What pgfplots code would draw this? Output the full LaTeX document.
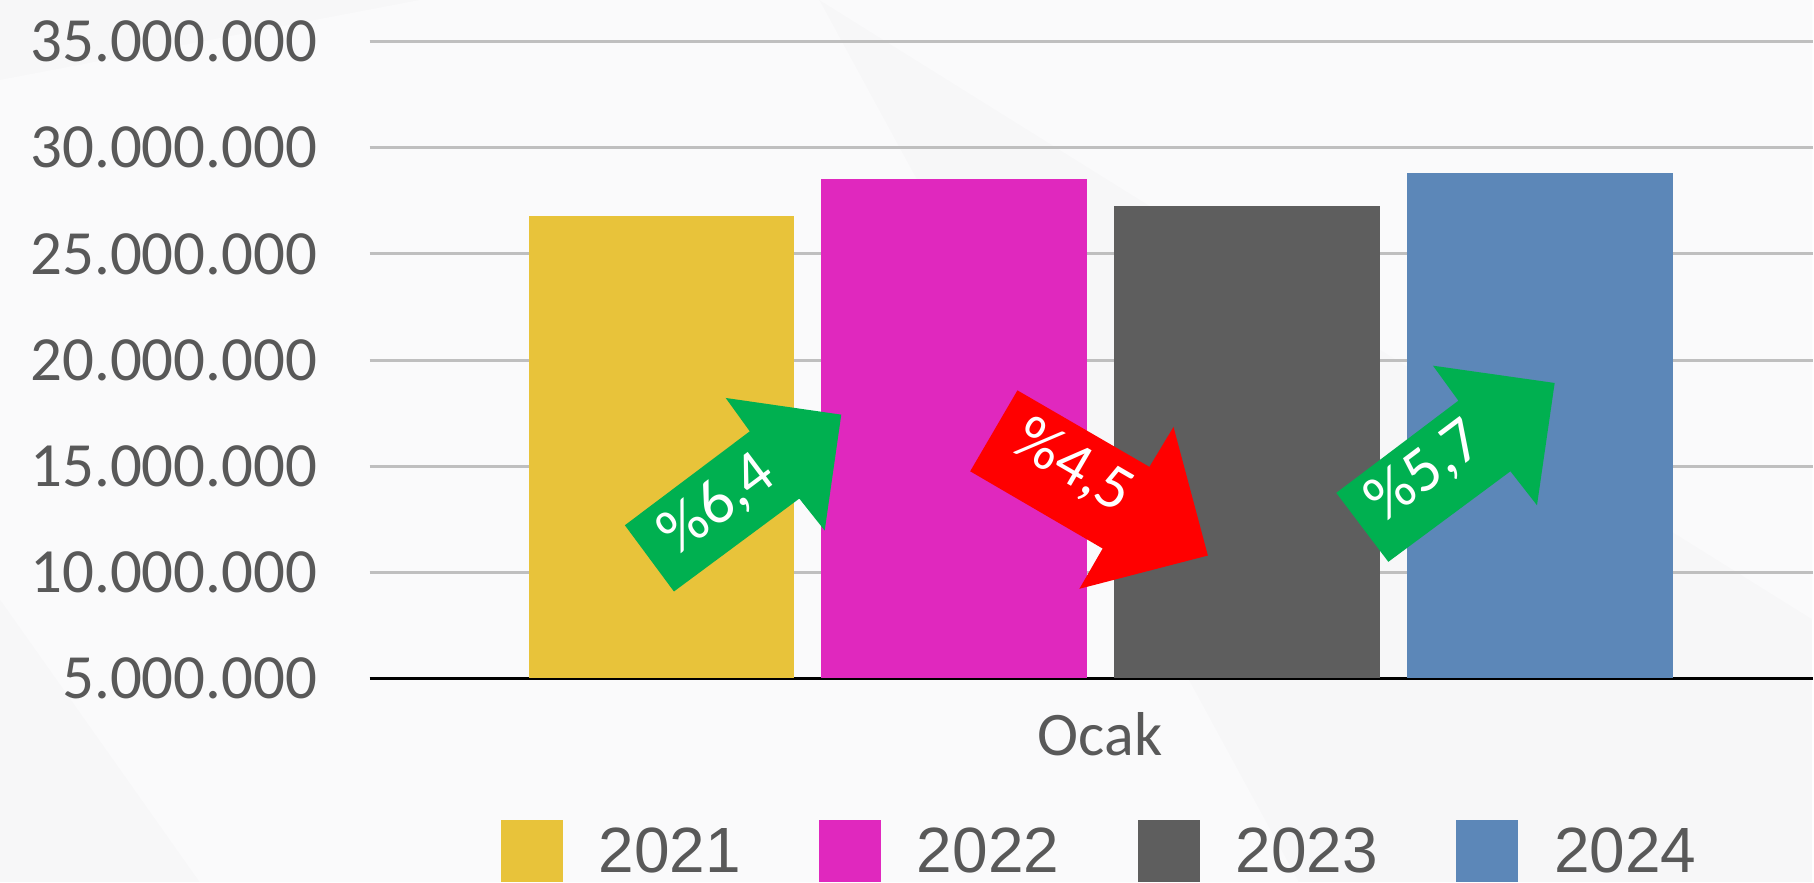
\documentclass[border=0pt]{standalone}
\usepackage{fontspec}
\setmainfont{Carlito}
\newfontfamily\legfont{Liberation Sans}
\usepackage{pgfplots}
\pgfplotsset{compat=1.18}
\definecolor{c21}{RGB}{232,195,58}
\definecolor{c22}{RGB}{224,40,190}
\definecolor{c23}{RGB}{94,94,94}
\definecolor{c24}{RGB}{92,135,184}
\definecolor{tgray}{RGB}{89,89,89}
\definecolor{ggray}{RGB}{191,191,191}
\definecolor{agreen}{RGB}{0,176,80}
\definecolor{bg}{RGB}{247,247,248}
\definecolor{bgl}{RGB}{250,250,251}
\begin{document}
\begin{tikzpicture}
\begin{scope}[x=0.5bp,y=-0.5bp,shift={(0,441.5bp)}]
\useasboundingbox (0,0) rectangle (1814,883);
\clip (0,0) rectangle (1814,883);
\fill[bg] (0,0) rectangle (1814,883);
\fill[bgl] (820,0) -- (1814,0) -- (1814,620) -- cycle;
\fill[bgl] (0,80) -- (420,0) -- (820,0) -- (1300,883) -- (200,883) -- (0,600) -- cycle;
\end{scope}
\begin{axis}[
  at={(185bp,102bp)}, anchor=south west,
  scale only axis, width=722bp, height=318.65bp,
  xmin=370, xmax=1814, ymin=5000000, ymax=35000000,
  axis x line=bottom, axis y line=left,
  y axis line style={draw=none},
  x axis line style={black, line width=1.5bp, -},
  ymajorgrids, grid style={ggray, line width=1.5bp},
  major tick length=0pt,
  ytick={5000000,10000000,15000000,20000000,25000000,30000000,35000000},
  scaled y ticks=false,
  yticklabel style={/pgf/number format/fixed, /pgf/number format/precision=0,
    /pgf/number format/1000 sep={.}, /pgf/number format/assume math mode=true,
    inner sep=0pt, anchor=east, xshift=-26bp, text=tgray,
    font=\fontsize{31.5bp}{36bp}\selectfont},
  xtick={1101}, xticklabels={Ocak},
  xticklabel style={inner sep=0pt, anchor=north, yshift=-17bp, text=tgray,
    font=\fontsize{31bp}{36bp}\selectfont},
  clip=true,
  legend columns=4,
  legend image code/.code={\fill[#1] (0bp,-15.5bp) rectangle (31bp,15.5bp);},
  legend style={at={(0.0907,-0.3201)}, anchor=south west, draw=none, fill=none,
    inner sep=0pt, outer sep=0pt, row sep=0pt,
    font=\legfont\fontsize{32bp}{36bp}\selectfont, text=tgray,
    nodes={inner sep=0pt, outer sep=0pt},
    /tikz/every odd column/.append style={column sep=18bp},
    /tikz/every even column/.append style={column sep=39.2bp}},
]
\addplot[ybar, bar width=266, bar shift=0pt, fill=c21, draw=none] coordinates {(662,26800000)};
\addlegendentry{2021}
\addplot[ybar, bar width=266, bar shift=0pt, fill=c22, draw=none] coordinates {(954.5,28520000)};
\addlegendentry{2022}
\addplot[ybar, bar width=266, bar shift=0pt, fill=c23, draw=none] coordinates {(1248,27240000)};
\addlegendentry{2023}
\addplot[ybar, bar width=266, bar shift=0pt, fill=c24, draw=none] coordinates {(1541,28790000)};
\addlegendentry{2024}
\end{axis}
\begin{scope}[x=0.5bp,y=-0.5bp,shift={(0,441.5bp)}]
\fill[agreen] (625.4,525.7) -- (750.4,431.7) -- (726.3,398.3) -- (842,415) -- (825.4,531) -- (800,499) -- (674.5,592) -- cycle;
\node[rotate=36.9, text=white, inner sep=0pt, font=\fontsize{32bp}{36bp}\selectfont] at (718,505) {\%6,4};
\fill[red] (1018.3,390.7) -- (1150.4,467.3) -- (1174.5,427.3) -- (1208.9,556) -- (1080.3,589.3) -- (1103.6,549) -- (971,471.7) -- cycle;
\node[rotate=-30.2, text=white, inner sep=0pt, font=\fontsize{32bp}{36bp}\selectfont] at (1074,467) {\%4,5};
\fill[agreen] (1337.4,493.3) -- (1459.6,401) -- (1434.2,366) -- (1556,383.3) -- (1538.3,505.7) -- (1511.7,471.7) -- (1389.5,562.3) -- cycle;
\node[rotate=36.9, text=white, inner sep=0pt, font=\fontsize{32bp}{36bp}\selectfont] at (1426,472) {\%5,7};
\end{scope}
\end{tikzpicture}
\end{document}
